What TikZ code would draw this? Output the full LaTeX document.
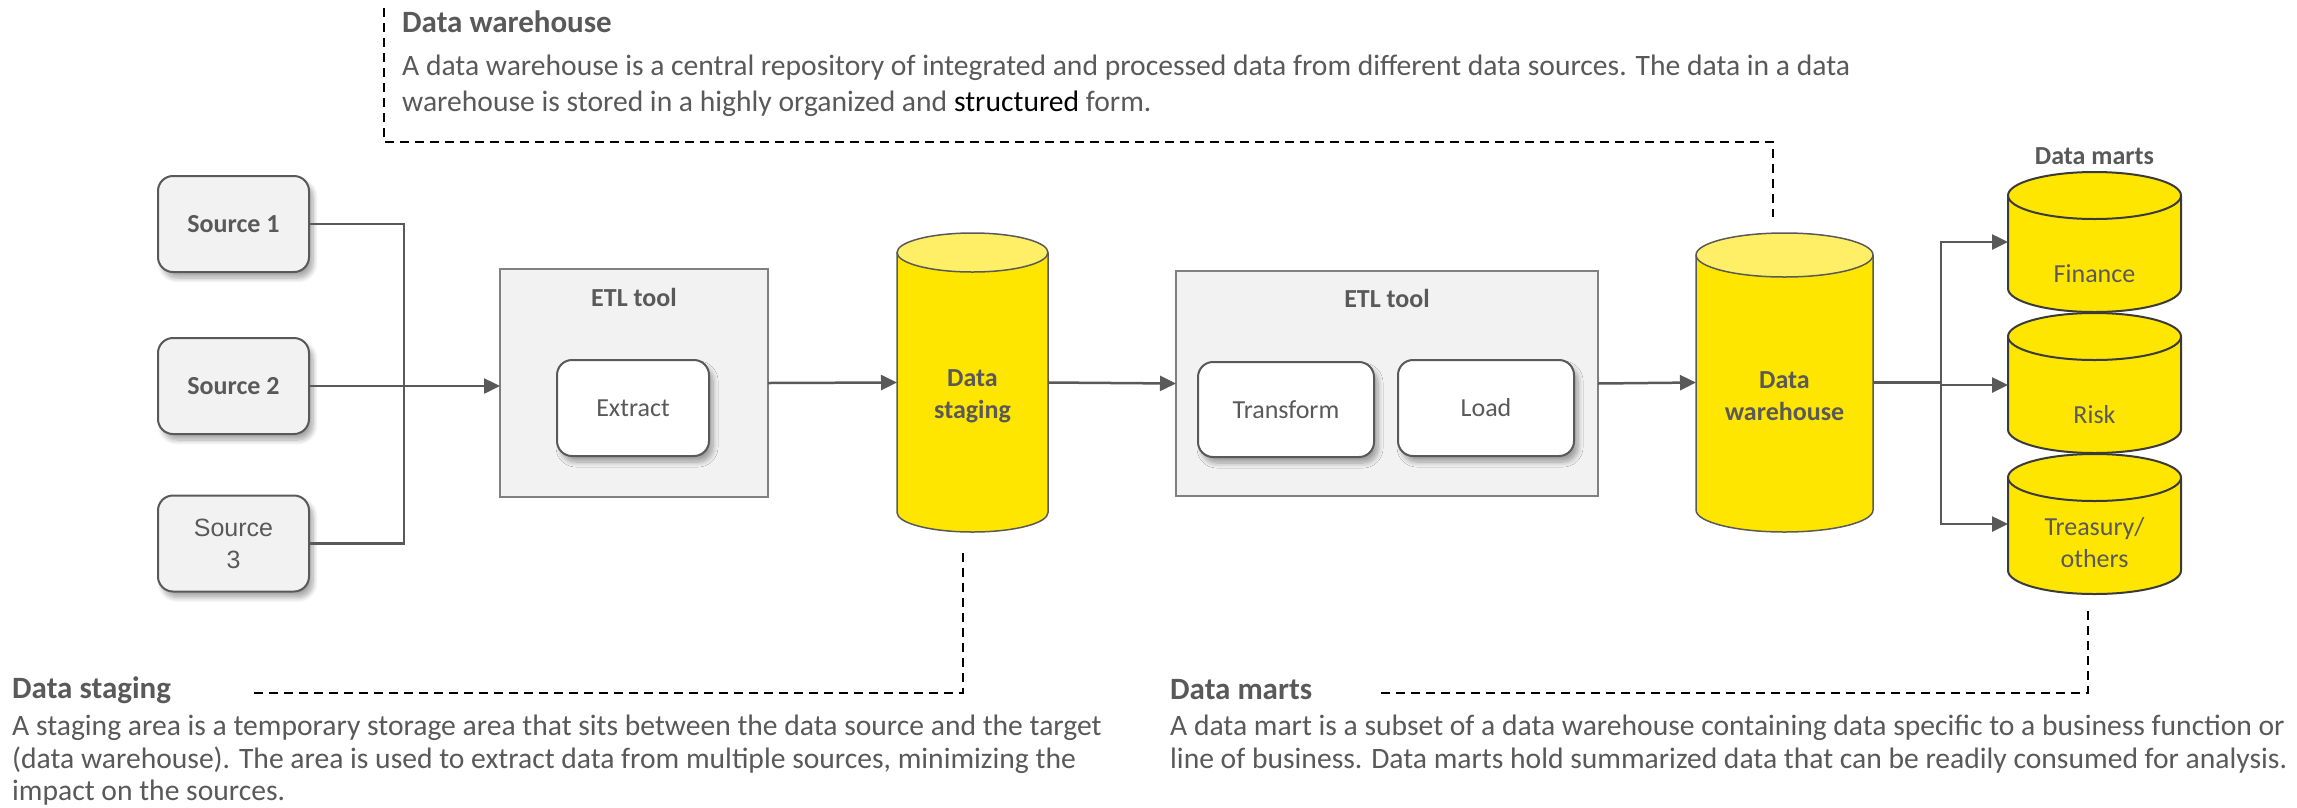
\documentclass[tikz,border=0pt]{standalone}
\usepackage{fontspec}
\setmainfont{Carlito}
\newfontfamily\arialfont{Liberation Sans}
\usetikzlibrary{arrows.meta,shadows.blur}

\definecolor{eyyellow}{HTML}{FFE600}
\definecolor{capyellow}{HTML}{FFEF66}
\definecolor{txtgray}{HTML}{595959}
\definecolor{linegray}{HTML}{595959}
\definecolor{martline}{HTML}{3A3A3A}
\definecolor{boxfill}{HTML}{F2F2F2}
\definecolor{boxline}{HTML}{808080}

\newcommand\lblfont{\fontsize{26}{32}\selectfont}
\newcommand\bodyfont{\fontsize{29.6}{34}\selectfont}
\newcommand\headfont{\fontsize{31}{36}\selectfont\bfseries}

% database cylinder: centre x, top y, bottom y, x radius, y radius,
% body fill, cap fill, outline colour, outline width
\newcommand\dbcyl[9]{%
  \filldraw[fill=#6, draw=#8, line width=#9]
    ({#1-#4},{#2+#5}) -- ({#1-#4},{#3-#5})
    .. controls ({#1-#4},{#3-#5+0.5523*#5}) and ({#1-0.5523*#4},{#3}) .. ({#1},{#3})
    .. controls ({#1+0.5523*#4},{#3}) and ({#1+#4},{#3-#5+0.5523*#5}) .. ({#1+#4},{#3-#5})
    -- ({#1+#4},{#2+#5});
  \filldraw[fill=#7, draw=#8, line width=#9] ({#1},{#2+#5}) ellipse [x radius=#4, y radius=#5];
}

\begin{document}
\begin{tikzpicture}[x=1pt, y=-1pt,
  softshadow/.style={blur shadow={shadow xshift=4pt, shadow yshift=-6pt,
      shadow blur steps=8, shadow blur radius=5pt, shadow opacity=35}},
  srcbox/.style={draw=linegray, line width=2pt, fill=boxfill, rounded corners=15pt,
      minimum width=151pt, minimum height=96pt, inner sep=0pt, outer sep=0pt,
      softshadow, font=\lblfont\bfseries, text=txtgray, align=center},
  etlbox/.style={draw=boxline, line width=2pt, fill=boxfill, inner sep=0pt, outer sep=0pt},
  stepbox/.style={draw=linegray, line width=2pt, fill=white, rounded corners=15pt,
      inner sep=0pt, outer sep=0pt, softshadow, font=\lblfont, text=txtgray},
  anchorbox/.style={inner sep=0pt, outer sep=0pt},
  lbl/.style={inner sep=0pt, font=\lblfont, text=txtgray, align=center},
  blbl/.style={lbl, font=\lblfont\bfseries},
  conn/.style={draw=linegray, line width=2.5pt},
  arr/.style={conn, -{Triangle[length=16pt, width=15pt]}},
  note/.style={draw=black, line width=2pt, dash pattern=on 9pt off 6pt},
  head/.style={anchor=base west, inner sep=0pt, font=\headfont, text=txtgray},
  body/.style={anchor=base west, inner sep=0pt, font=\bodyfont, text=txtgray}
]
\useasboundingbox (0,0) rectangle (2297,807);

% sources
\node[srcbox] (s1) at (233.5,224) {Source 1};
\node[srcbox] (s2) at (233.5,386) {Source 2};
\node[srcbox, font=\arialfont\fontsize{25}{32}\selectfont] (s3) at (233.5,543.5) {Source\\3};

% first ETL tool
\node[etlbox, minimum width=268pt, minimum height=228pt] (etl1) at (634,383) {};
\node[blbl] (etl1t) at (634,297) {ETL tool};
\node[stepbox, minimum width=152pt, minimum height=96pt] (ext) at (633,408) {Extract};

% staging area
\dbcyl{972.5}{233}{532}{75.5}{19.5}{eyyellow}{capyellow}{linegray}{1.5pt}
\node[anchorbox, minimum width=151pt, minimum height=299pt] (stg) at (972.5,382.5) {};
\node[blbl] (stgt) at (972.5,396) {Data\\staging};

% second ETL tool
\node[etlbox, minimum width=422pt, minimum height=225pt] (etl2) at (1387,383.5) {};
\node[blbl] (etl2t) at (1387,298) {ETL tool};
\node[stepbox, minimum width=176pt, minimum height=95pt] (trf) at (1286,409.5) {Transform};
\node[stepbox, minimum width=176pt, minimum height=96pt] (lod) at (1486,408) {Load};

% warehouse
\dbcyl{1784.5}{233}{532}{88.5}{22}{eyyellow}{capyellow}{linegray}{1.5pt}
\node[anchorbox, minimum width=177pt, minimum height=299pt] (wh) at (1784.5,382.5) {};
\node[blbl] (wht) at (1784.5,396) {Data\\warehouse};

% data marts
\node[blbl] (dmt) at (2094.5,156) {Data marts};
\dbcyl{2094.5}{172}{312}{86.5}{23.5}{eyyellow}{eyyellow}{martline}{2pt}
\dbcyl{2094.5}{313}{453}{86.5}{23.5}{eyyellow}{eyyellow}{martline}{2pt}
\dbcyl{2094.5}{454}{594}{86.5}{23.5}{eyyellow}{eyyellow}{martline}{2pt}
\node[anchorbox, minimum width=173pt, minimum height=140pt] (fin) at (2094.5,242) {};
\node[anchorbox, minimum width=173pt, minimum height=140pt] (risk) at (2094.5,385) {};
\node[anchorbox, minimum width=173pt, minimum height=140pt] (trs) at (2094.5,524) {};
\node[lbl] (fint) at (2094.5,274) {Finance};
\node[lbl] (riskt) at (2094.5,415) {Risk};
\node[lbl] (trst) at (2094.5,543) {Treasury/\\others};

% flow connectors
\coordinate (sbus) at (404,386);
\draw[conn] (s1.east) -| (sbus);
\draw[conn] (s3.east) -| (sbus);
\draw[arr] (s2.east) -- (s2.east -| etl1.west);
\draw[arr] (etl1.east) -- (stg.west);
\draw[arr] (stg.east) -- (etl2.west);
\draw[arr] (etl2.east) -- (wh.west);
\coordinate (mbus) at (1941,382.5);
\draw[conn] (wh.east) -- (mbus);
\draw[arr] (mbus) |- (fin.west);
\draw[arr] (mbus) |- (risk.west);
\draw[arr] (mbus) |- (trs.west);

% callout leaders
\coordinate (dwa) at (384,8);
\coordinate (dwb) at (1773,142);
\coordinate (dwc) at (1773,217);
\draw[note] (dwa) |- (dwb) -- (dwc);
\coordinate (dsa) at (963,553);
\coordinate (dsb) at (253,693);
\draw[note] (dsa) |- (dsb);
\coordinate (dma) at (2088,611);
\coordinate (dmb) at (1377,693);
\draw[note] (dma) |- (dmb);

% callout texts
\node[head] (dwh) at (402,32) {Data warehouse};
\node[body] (dwl1) at (402,75) {A data warehouse is a central repository of integrated and processed data from different data sources. The data in a data};
\node[body] (dwl2) at (402,111) {warehouse is stored in a highly organized and \textcolor{black}{structured} form.};

\node[head] (dsh) at (12,698) {Data staging};
\node[body] (dsl1) at (12,735) {A staging area is a temporary storage area that sits between the data source and the target};
\node[body] (dsl2) at (12,768) {(data warehouse). The area is used to extract data from multiple sources, minimizing the};
\node[body] (dsl3) at (12,800) {impact on the sources.};

\node[head] (dmh) at (1170,699) {Data marts};
\node[body] (dml1) at (1170,735) {A data mart is a subset of a data warehouse containing data specific to a business function or};
\node[body] (dml2) at (1170,768) {line of business. Data marts hold summarized data that can be readily consumed for analysis.};
\end{tikzpicture}
\end{document}
